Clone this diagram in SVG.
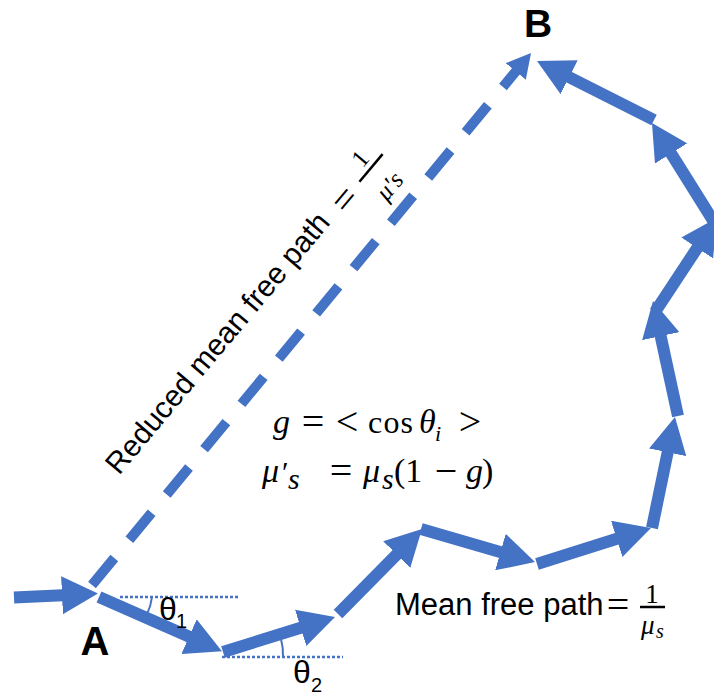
<svg xmlns="http://www.w3.org/2000/svg" width="714" height="696" viewBox="0 0 714 696">
  <style>
    .arr { fill: none; stroke: #4472C4; stroke-width: 12; stroke-linecap: butt; marker-end: url(#ah); }
    .dash { fill: none; stroke: #4472C4; stroke-width: 10; stroke-dasharray: 35 23.7; marker-end: url(#ahs); }
    .dot { fill: none; stroke: #4472C4; stroke-width: 2.5; stroke-dasharray: 3 2; }
    .arc { fill: none; stroke: #4472C4; stroke-width: 2; }
    .sans { font-family: "Liberation Sans", Arial, sans-serif; fill: #000; }
    .bold { font-family: "Liberation Sans", Arial, sans-serif; font-weight: bold; fill: #000; }
    .math { font-family: "Liberation Serif", "Times New Roman", serif; fill: #000; }
    .it { font-style: italic; }
    .bar { stroke: #000; stroke-width: 2.5; }
  </style>
  <defs>
    <marker id="ah" viewBox="0 0 36 38" refX="6" refY="19" markerWidth="36" markerHeight="38" markerUnits="userSpaceOnUse" orient="auto">
      <path d="M0,0 L36,19 L0,38 z" fill="#4472C4"/>
    </marker>
    <marker id="ahs" viewBox="0 0 24 26" refX="4" refY="13" markerWidth="24" markerHeight="26" markerUnits="userSpaceOnUse" orient="auto">
      <path d="M0,0 L24,13 L0,26 z" fill="#4472C4"/>
    </marker>
  </defs>
  <rect width="714" height="696" fill="#fff"/>

  <g id="connectors">
    <path class="dash" d="M92,585 L518.3,68.4"/>
    <path class="arr" d="M14,597.5 L68,595"/>
    <path class="arr" d="M99,597 L194.5,639.1"/>
    <path class="arr" d="M223,652 L306.4,626"/>
    <path class="arr" d="M338,614 L400.9,550.3"/>
    <path class="arr" d="M421,529 L506.2,553.7"/>
    <path class="arr" d="M537,564 L622.4,537"/>
    <path class="arr" d="M652,528 L668.9,446.4"/>
    <path class="arr" d="M678,416 L659.4,330.3"/>
    <path class="arr" d="M655,312 L700.5,243"/>
    <path class="arr" d="M714,222 L667.9,148.4"/>
    <path class="arr" d="M654,120 L563.8,74.5"/>
  </g>

  <g id="angle1">
    <line class="dot" x1="120" y1="597" x2="240" y2="597"/>
    <path class="arc" d="M152,597 A54,54 0 0 1 147,614"/>
    <text class="sans" x="159" y="620" font-size="32">θ</text>
    <text class="sans" x="176" y="628" font-size="20">1</text>
  </g>

  <g id="angle2">
    <line class="dot" x1="222" y1="657" x2="343" y2="657"/>
    <path class="arc" d="M281,639 A60,60 0 0 1 283,657"/>
    <text class="sans" x="293" y="683" font-size="32">θ</text>
    <text class="sans" x="311" y="692" font-size="20">2</text>
  </g>

  <g id="nodeA">
    <text class="bold" x="95" y="655" font-size="40" text-anchor="middle">A</text>
  </g>
  <g id="nodeB">
    <text class="bold" x="538" y="37" font-size="39" text-anchor="middle">B</text>
  </g>

  <g id="label-reduced" transform="translate(119,476) rotate(-50)">
    <text class="sans" x="0" y="0" font-size="30">Reduced mean free path</text>
    <text class="math" x="357" y="8" font-size="40" text-anchor="middle">=</text>
    <line class="bar" x1="380" y1="-5" x2="416" y2="-5"/>
    <text class="math" x="398" y="-11" font-size="25" text-anchor="middle">1</text>
    <text class="math it" x="396" y="29" font-size="25" text-anchor="middle">μ′s</text>
  </g>

  <g id="label-g">
    <text class="math it" x="273" y="433" font-size="34">g</text>
    <text class="math" x="313" y="435" font-size="40" text-anchor="middle">=</text>
    <text class="math" x="347" y="435" font-size="40" text-anchor="middle">&lt;</text>
    <text class="math" x="368" y="433" font-size="32" textLength="45">cos</text>
    <text class="math it" x="419" y="433" font-size="34">θ</text>
    <text class="math it" x="435" y="441" font-size="22">i</text>
    <text class="math" x="470" y="435" font-size="40" text-anchor="middle">&gt;</text>
  </g>

  <g id="label-mu">
    <text class="math it" x="262" y="482" font-size="34">μ</text>
    <text class="math" x="282" y="482" font-size="30">′</text>
    <text class="math it" x="288" y="489" font-size="30">s</text>
    <text class="math" x="341" y="484" font-size="40" text-anchor="middle">=</text>
    <text class="math it" x="363" y="482" font-size="34">μ</text>
    <text class="math it" x="382" y="489" font-size="30">s</text>
    <text class="math" x="394" y="482" font-size="34">(1</text>
    <text class="math" x="446" y="484" font-size="40" text-anchor="middle">−</text>
    <text class="math it" x="466" y="482" font-size="34">g</text>
    <text class="math" x="482" y="482" font-size="34">)</text>
  </g>

  <g id="label-mfp">
    <text class="sans" x="395" y="615" font-size="31">Mean free path</text>
    <text class="math" x="618" y="618" font-size="40" text-anchor="middle">=</text>
    <line class="bar" x1="640" y1="607" x2="665" y2="607"/>
    <text class="math" x="652" y="603" font-size="27" text-anchor="middle">1</text>
    <text class="math it" x="641" y="634" font-size="27">μ</text>
    <text class="math it" x="656" y="638" font-size="20">s</text>
  </g>
</svg>
